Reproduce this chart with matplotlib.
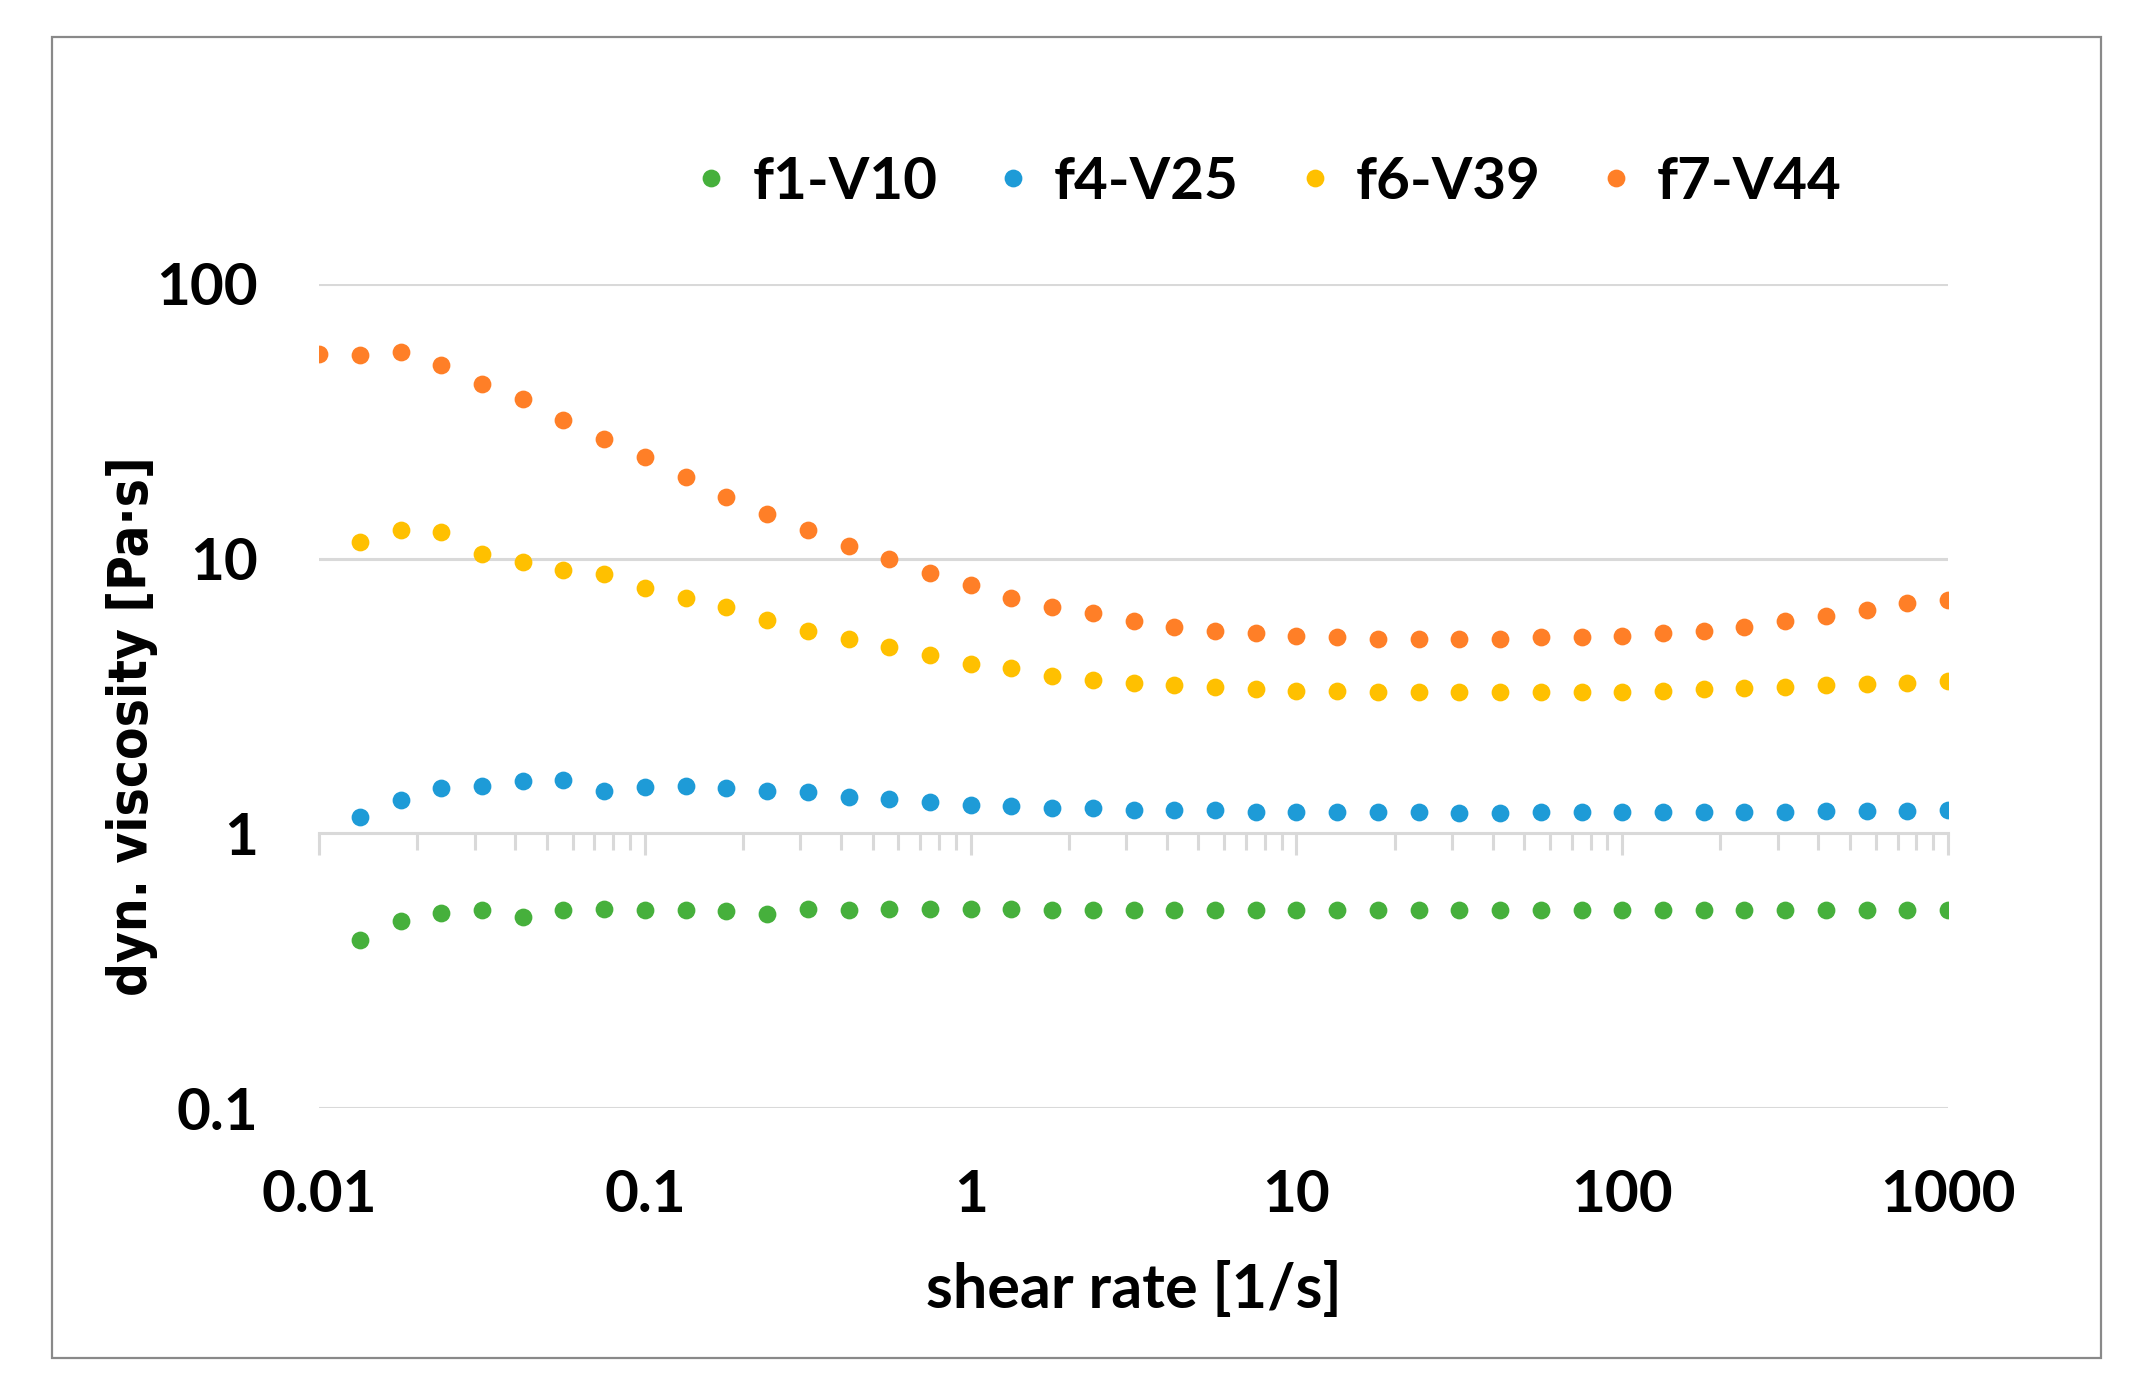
import numpy as np
import matplotlib
matplotlib.use("Agg")
import matplotlib.pyplot as plt
from matplotlib.ticker import LogLocator, NullLocator, NullFormatter
from matplotlib.patches import Rectangle

# shear rate: 8 points per decade, 0.01 .. 1000
shear = np.array([0.01, 0.01334, 0.01778, 0.02371, 0.03162, 0.04217, 0.05623, 0.07499,
                  0.1, 0.1334, 0.1778, 0.2371, 0.3162, 0.4217, 0.5623, 0.7499,
                  1.0, 1.334, 1.778, 2.371, 3.162, 4.217, 5.623, 7.499,
                  10.0, 13.34, 17.78, 23.71, 31.62, 42.17, 56.23, 74.99,
                  100.0, 133.4, 177.8, 237.1, 316.2, 421.7, 562.3, 749.9, 1000.0])

f7_V44 = [55.7, 55.0, 56.5, 50.8, 43.3, 38.1, 32.1, 27.3, 23.5, 19.8, 16.7, 14.5, 12.7, 11.1,
          9.95, 8.87, 8.0, 7.2, 6.65, 6.35, 5.93, 5.66, 5.47, 5.35, 5.23, 5.17, 5.11, 5.11,
          5.1, 5.1, 5.17, 5.17, 5.23, 5.35, 5.47, 5.66, 5.93, 6.2, 6.5, 6.88, 7.05]
# the other three start at the second shear rate
f6_V39 = [11.5, 12.7, 12.5, 10.4, 9.72, 9.07, 8.77, 7.81, 7.2, 6.65, 6.0, 5.47, 5.11, 4.77,
          4.45, 4.15, 4.01, 3.75, 3.62, 3.54, 3.46, 3.42, 3.34, 3.3, 3.3, 3.26, 3.26, 3.26,
          3.26, 3.26, 3.26, 3.26, 3.3, 3.34, 3.38, 3.42, 3.46, 3.5, 3.54, 3.58]
f4_V25 = [1.15, 1.32, 1.46, 1.49, 1.55, 1.57, 1.43, 1.48, 1.49, 1.46, 1.43, 1.41, 1.36, 1.33,
          1.30, 1.27, 1.26, 1.24, 1.24, 1.22, 1.22, 1.22, 1.2, 1.2, 1.2, 1.2, 1.2, 1.19,
          1.19, 1.2, 1.2, 1.2, 1.2, 1.2, 1.2, 1.2, 1.21, 1.21, 1.21, 1.22]
f1_V10 = [0.408, 0.48, 0.514, 0.526, 0.496, 0.526, 0.53, 0.526, 0.526, 0.52, 0.508, 0.53,
          0.526, 0.53, 0.53, 0.53, 0.53, 0.526, 0.526, 0.526, 0.526, 0.526, 0.526, 0.526,
          0.526, 0.526, 0.526, 0.526, 0.526, 0.526, 0.526, 0.526, 0.526, 0.526, 0.526,
          0.526, 0.526, 0.526, 0.526, 0.526]

names = ["f1-V10", "f4-V25", "f6-V39", "f7-V44"]
farben = ["#46B03C", "#1E9BD7", "#FFC000", "#FF7F27"]
xticks = [0.01, 0.1, 1, 10, 100, 1000]
xtick_labels = ["0.01", "0.1", "1", "10", "100", "1000"]
yticks = [0.1, 1, 10, 100]
ytick_labels = ["0.1", "1", "10", "100"]

schrift = ["Lato", "DejaVu Sans"]
grau = "#D9D9D9"

fig = plt.figure(figsize=(10.745, 6.96), dpi=200)
ax = fig.add_axes([0.1485, 0.204, 0.758, 0.592])

reihen = [(shear[1:], f1_V10), (shear[1:], f4_V25), (shear[1:], f6_V39), (shear, f7_V44)]
for (x, y), name, c in zip(reihen, names, farben):
    ax.plot(x, y, linestyle="none", marker="o", markersize=6.4, color=c,
            markeredgewidth=0, label=name)

ax.set_xscale("log")
ax.set_yscale("log")
ax.set_xlim(0.01, 1000)
ax.set_ylim(0.1, 100)

# gridlines
for yv in [0.1, 10, 100]:
    ax.axhline(yv, color=grau, linewidth=1.1, zorder=0)

for s in ["top", "right", "left"]:
    ax.spines[s].set_visible(False)
# x axis line crosses at 1
ax.spines["bottom"].set_position(("data", 1))
ax.spines["bottom"].set_color(grau)
ax.spines["bottom"].set_linewidth(1.1)
ax.spines["bottom"].set_zorder(0)
ax.xaxis.set_major_locator(LogLocator(base=10))
ax.xaxis.set_minor_locator(LogLocator(base=10, subs=np.arange(2, 10)))
ax.xaxis.set_minor_formatter(NullFormatter())
ax.tick_params(axis="x", which="major", direction="out", length=8, width=1.1, color=grau,
               labelbottom=False)
ax.tick_params(axis="x", which="minor", direction="out", length=6, width=1.1, color=grau)

ax.set_yticks(yticks, ytick_labels)
ax.yaxis.set_minor_locator(NullLocator())
ax.tick_params(axis="y", length=0, pad=22)
for t in ax.get_yticklabels():
    t.set_fontfamily(schrift)
    t.set_fontweight("bold")
    t.set_fontsize(21)

# tick labels at the bottom of the plot
sec = ax.secondary_xaxis(0)
sec.set_xticks(xticks, xtick_labels)
sec.xaxis.set_minor_locator(NullLocator())
sec.spines["bottom"].set_visible(False)
sec.tick_params(axis="x", length=0, pad=22)
for t in sec.get_xticklabels():
    t.set_fontfamily(schrift)
    t.set_fontweight("bold")
    t.set_fontsize(21)
sec.set_xlabel("shear rate [1/s]", fontsize=22, fontweight="bold", family=schrift, labelpad=14)

ax.set_ylabel("dyn. viscosity [Pa·s]", fontsize=19, fontweight="bold",
              family=["DejaVu Sans"], fontstretch="condensed")
ax.yaxis.set_label_coords(-0.099, 0.463)

leg = fig.legend(loc="center", bbox_to_anchor=(0.59, 0.869), ncol=4, frameon=False,
                 handlelength=0.6, handletextpad=0.4, columnspacing=1.0,
                 prop={"family": schrift, "weight": "bold", "size": 21})

# outer border
fig.patches.append(Rectangle((0.0242, 0.0245), 0.9535, 0.9489, transform=fig.transFigure,
                             fill=False, edgecolor="#898989", linewidth=0.8))

plt.savefig("out.png", dpi=200)
